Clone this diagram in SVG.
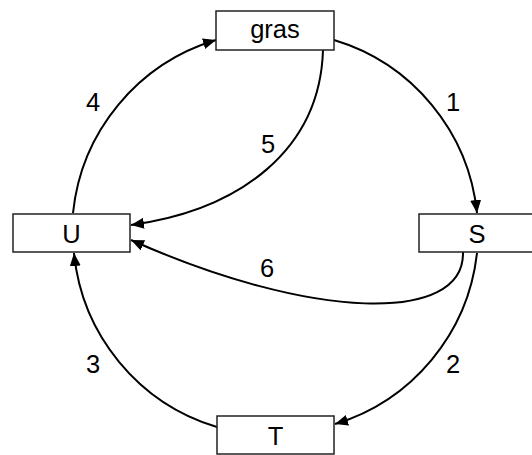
<svg xmlns="http://www.w3.org/2000/svg" width="532" height="455" viewBox="0 0 532 455">
<style>
.box{fill:#fff;stroke:#222;stroke-width:1.5}
.lbl{font-family:"Liberation Sans",Arial,sans-serif;font-size:25.5px;fill:#000;text-anchor:middle}
.edge{fill:none;stroke:#000;stroke-width:2;marker-end:url(#ah)}
</style>
<defs>
<marker id="ah" markerUnits="userSpaceOnUse" markerWidth="14" markerHeight="12" refX="13" refY="5.5" orient="auto">
<path d="M0,0 L13,5.5 L0,11 Z" fill="#000"/>
</marker>
</defs>
<rect width="532" height="455" fill="#fff"/>
<g id="connectors">
<path class="edge" d="M334,40 A202,202 0 0 1 477,213"/>
<path class="edge" d="M477,253 A202,202 0 0 1 335,424"/>
<path class="edge" d="M217,427 A202,202 0 0 1 74,253"/>
<path class="edge" d="M73,213 A202,202 0 0 1 216,40"/>
<path class="edge" d="M323,50 C320,150 240,210 131,225"/>
<path class="edge" d="M463,252 C465,325 310,320 131,240"/>
</g>
<g id="edge-labels">
<text class="lbl" x="453" y="111">1</text>
<text class="lbl" x="453" y="373">2</text>
<text class="lbl" x="93" y="373">3</text>
<text class="lbl" x="93" y="111">4</text>
<text class="lbl" x="268" y="153">5</text>
<text class="lbl" x="267" y="277">6</text>
</g>
<g id="node-gras">
<rect class="box" x="216" y="11" width="118" height="39"/>
<text class="lbl" x="275" y="37.5">gras</text>
</g>
<g id="node-U">
<rect class="box" x="13" y="214" width="117" height="38"/>
<text class="lbl" x="71.5" y="243">U</text>
</g>
<g id="node-S">
<rect class="box" x="419" y="214" width="117" height="38"/>
<text class="lbl" x="477" y="243">S</text>
</g>
<g id="node-T">
<rect class="box" x="217" y="416" width="117" height="38"/>
<text class="lbl" x="275.5" y="445">T</text>
</g>
</svg>
